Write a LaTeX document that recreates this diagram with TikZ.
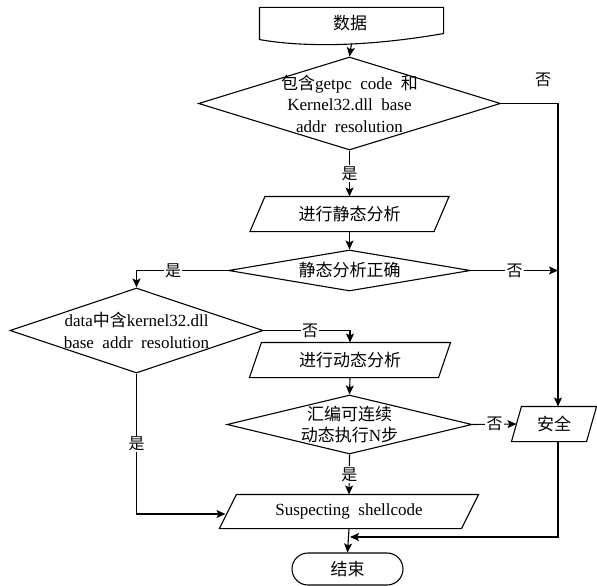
\documentclass[tikz,border=0pt]{standalone}
\usepackage{fontspec}
\setmainfont{Liberation Serif}[WordSpace=2]
\newfontfamily\cjk{Noto Sans CJK SC}
\usetikzlibrary{shapes.geometric,arrows.meta,calc}

% parallelogram drawn on a named rectangle node: #1 node, #2 slant
\newcommand\parabox[2]{%
  \draw ([xshift=#2]#1.north west) -- (#1.north east)
        -- ([xshift=-#2]#1.south east) -- (#1.south west) -- cycle;}

\begin{document}
\begin{tikzpicture}[x=1pt,y=-1pt,line width=1.1pt,
  arr/.style={-{Stealth[length=9pt,width=8pt,inset=2pt]}},
  dia/.style={draw,diamond,inner sep=0pt,aspect=1},
  box/.style={inner sep=0pt,minimum height=34pt},
  txt/.style={align=center,inner sep=0pt,font=\fontsize{17pt}{21.5pt}\selectfont},
  lbl/.style={fill=white,inner sep=1.2pt,font=\fontsize{16pt}{16pt}\selectfont\cjk},
]
\useasboundingbox (0,0) rectangle (597,586);

% ---- shapes ----
\node[box,minimum width=183pt,minimum height=35pt] (d0) at (351.5,25.5) {};
\draw (d0.north west) -- (d0.north east) -- ([yshift=10pt]d0.south east)
  .. controls +(-75pt,-13pt) and +(45pt,-8pt) .. ([yshift=4pt]d0.south west) -- cycle;
\node[txt] (d0t) at (350,23) {\cjk 数据};

\node[dia,minimum width=302pt,minimum height=93pt] (d1) at (349.5,103.5) {};
\node[txt] (d1t) at (d1) {{\cjk 包含}getpc code {\cjk 和}\\Kernel32.dll base\\addr resolution};

\node[box,minimum width=198pt] (p1) at (349.5,214) {};
\parabox{p1}{15pt}
\node[txt] (p1t) at (p1) {\cjk 进行静态分析};

\node[dia,minimum width=242pt,minimum height=41pt] (d2) at (349.5,270.5) {};
\node[txt] (d2t) at (d2) {\cjk 静态分析正确};

\node[dia,minimum width=253pt,minimum height=85pt] (d3) at (136.5,330.5) {};
\node[txt] (d3t) at (d3) {data{\cjk 中含}kernel32.dll\\base addr resolution};

\node[box,minimum width=200pt] (p2) at (350,360) {};
\parabox{p2}{12pt}
\node[txt] (p2t) at (p2) {\cjk 进行动态分析};

\node[dia,minimum width=245pt,minimum height=59pt] (d4) at (349.5,424.5) {};
\node[txt] (d4t) at (d4) {{\cjk 汇编可连续}\\{\cjk 动态执行}N{\cjk 步}};

\node[box,minimum width=84pt] (s) at (554,424) {};
\parabox{s}{10pt}
\node[txt] (st) at (s) {\cjk 安全};

\node[box,minimum width=258pt,minimum height=33pt] (p3) at (349,511.5) {};
\parabox{p3}{17pt}
\node[txt] (p3t) at (p3) {Suspecting shellcode};

\node[draw,rectangle,rounded corners=16pt,inner sep=0pt,
      minimum width=111pt,minimum height=32pt] (e) at (347.5,569) {};
\node[txt] (et) at (e) {\cjk 结束};

% ---- helper points ----
\coordinate (rx) at (558,0);
\coordinate (j) at (350,537);

% ---- connectors ----
\draw[arr] (d0.south) -- (d1.north);
\draw[arr] (d1.east) -- (d1.east -| rx) -- (s.north -| rx);
\node[lbl,fill=none] (n1) at (543,80) {否};
\draw[arr] (d1.south) -- node[lbl]{是} (p1.north);
\draw[arr] (p1.south) -- (d2.north);
\draw[arr] (d2.west) -| node[lbl,pos=0.3]{是} (d3.north);
\draw[arr] (d2.east) -- node[lbl]{否} (d2.east -| rx);
\draw[arr] (d3.east) -| node[lbl,pos=0.27]{否} (p2.north);
\draw[arr] (p2.south) -- (d4.north);
\draw[arr] (d4.east) -- node[lbl]{否} ([xshift=5pt]s.west);
\draw[arr] (d4.south) -- node[lbl]{是} (p3.north);
\draw[arr] (d3.south) |- node[lbl,pos=0.25]{是} ([xshift=6pt,yshift=-2.5pt]p3.west);
\draw[arr] (s.south -| rx) |- (j);
\draw[arr] (p3.south) -- (e.north);
\end{tikzpicture}
\end{document}
